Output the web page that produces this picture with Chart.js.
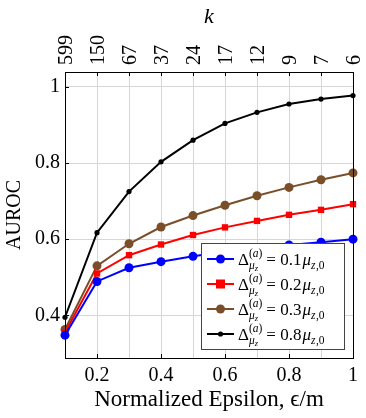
<!DOCTYPE html>
<html>
<head>
<meta charset="utf-8">
<script src="https://cdn.jsdelivr.net/npm/chart.js@4"></script>
<style>
html, body { margin: 0; padding: 0; background: #fff; }
#wrap { position: relative; width: 366px; height: 418px; }
.klabel {
    position: absolute;
    font: 20px 'Liberation Serif', 'DejaVu Serif', serif;
    line-height: 1;
    white-space: nowrap;
    color: #000;
    transform-origin: 0 0;
    transform: rotate(-90deg) translateY(-50%);
}
</style>
</head>
<body>
<div id="wrap"><canvas id="myChart" width="366" height="418"></canvas></div>
<script>
// x positions (normalized epsilon) and the matching k on the top axis
const epsilon = [0.1, 0.2, 0.3, 0.4, 0.5, 0.6, 0.7, 0.8, 0.9, 1.0];
const kLabels = ['599', '150', '67', '37', '24', '17', '12', '9', '7', '6'];
const xTicks = [0.2, 0.4, 0.6, 0.8, 1];
const yTicks = [0.4, 0.6, 0.8, 1];

// AUROC per shift size
const delta01 = [0.348, 0.489, 0.525, 0.541, 0.555, 0.567, 0.577, 0.585, 0.592, 0.600];
const delta02 = [0.355, 0.510, 0.558, 0.586, 0.611, 0.631, 0.648, 0.664, 0.677, 0.692];
const delta03 = [0.363, 0.530, 0.588, 0.632, 0.662, 0.689, 0.714, 0.736, 0.756, 0.774];
const delta08 = [0.395, 0.617, 0.725, 0.803, 0.860, 0.904, 0.933, 0.955, 0.968, 0.977];

const seriesLabels = ['0.1', '0.2', '0.3', '0.8'];
const FONT = "'Liberation Serif', 'DejaVu Serif', serif";

function toPoints(ys) {
    return epsilon.map((x, i) => ({ x: x, y: ys[i] }));
}

const series = [
    { data: delta01, color: '#0000ff', shape: 'circle', r: 4.5 },
    { data: delta02, color: '#ff0000', shape: 'rect', r: 4.5 },
    { data: delta03, color: '#7a4e28', shape: 'circle', r: 4.5 },
    { data: delta08, color: '#000000', shape: 'circle', r: 2.6 }
];

// frame, inward ticks and the math legend
const framePlugin = {
    id: 'frame',
    afterDatasetsDraw(chart) {
        const ctx = chart.ctx;
        const a = chart.chartArea;
        const xs = chart.scales.x;
        const ys = chart.scales.y;
        ctx.save();
        ctx.strokeStyle = '#000';
        ctx.lineWidth = 1;
        ctx.beginPath();
        epsilon.forEach(v => {
            const px = Math.round(xs.getPixelForValue(v)) + 0.5;
            ctx.moveTo(px, a.top); ctx.lineTo(px, a.top + 4);
        });
        xTicks.forEach(v => {
            const px = Math.round(xs.getPixelForValue(v)) + 0.5;
            ctx.moveTo(px, a.bottom); ctx.lineTo(px, a.bottom - 4);
        });
        yTicks.forEach(v => {
            const py = Math.round(ys.getPixelForValue(v)) + 0.5;
            ctx.moveTo(a.left, py); ctx.lineTo(a.left + 4, py);
        });
        ctx.stroke();
        ctx.strokeRect(Math.round(a.left) + 0.5, Math.round(a.top) + 0.5,
            Math.round(a.right - a.left), Math.round(a.bottom - a.top));

        // legend box
        const lx = 201, ly = 243, lw = 143, lh = 106;
        ctx.fillStyle = '#fff';
        ctx.fillRect(lx, ly, lw, lh);
        ctx.strokeStyle = '#444';
        ctx.strokeRect(lx + 0.5, ly + 0.5, lw, lh);

        series.forEach((s, i) => {
            const cy = ly + 16 + i * 25;
            ctx.strokeStyle = s.color;
            ctx.lineWidth = 2;
            ctx.beginPath();
            ctx.moveTo(lx + 6, cy); ctx.lineTo(lx + 33, cy);
            ctx.stroke();
            ctx.fillStyle = s.color;
            if (s.shape === 'rect') {
                ctx.fillRect(lx + 19.5 - s.r, cy - s.r, s.r * 2, s.r * 2);
            } else {
                ctx.beginPath();
                ctx.arc(lx + 19.5, cy, s.r, 0, Math.PI * 2);
                ctx.fill();
            }
            drawLabel(ctx, lx + 37, cy + 6, seriesLabels[i]);
        });
        ctx.restore();
    }
};

function put(ctx, text, x, y, size, italic) {
    ctx.font = (italic ? 'italic ' : '') + size + 'px ' + FONT;
    ctx.fillText(text, x, y);
    return ctx.measureText(text).width;
}

// \Delta_{\mu_z}^{(a)} = v\mu_{z,0}
function drawLabel(ctx, x, y, v) {
    ctx.fillStyle = '#000';
    ctx.textAlign = 'left';
    ctx.textBaseline = 'alphabetic';
    x += put(ctx, '\u0394', x, y, 17, false);
    let w1 = put(ctx, '(', x, y - 8, 11.5, false);
    w1 += put(ctx, 'a', x + w1, y - 8, 11.5, true);
    w1 += put(ctx, ')', x + w1, y - 8, 11.5, false);
    let w2 = put(ctx, '\u03bc', x, y + 4, 11.5, true);
    w2 += put(ctx, 'z', x + w2, y + 6, 8.5, true);
    x += Math.max(w1, w2) + 4;
    x += put(ctx, '= ' + v, x, y, 17, false);
    x += put(ctx, '\u03bc', x + 1, y, 17, true) + 1;
    put(ctx, 'z', x, y + 4, 11.5, true);
    put(ctx, ',0', x + 5, y + 4, 11.5, false);
}

const ctx = document.getElementById('myChart').getContext('2d');
window.myChart = new Chart(ctx, {
    type: 'scatter',
    data: {
        datasets: series.map(s => ({
            data: toPoints(s.data),
            showLine: true,
            borderColor: s.color,
            backgroundColor: s.color,
            borderWidth: 2,
            pointStyle: s.shape === 'rect' ? 'rect' : 'circle',
            pointRadius: s.r,
            pointBorderWidth: 0,
            clip: false
        }))
    },
    options: {
        responsive: false,
        animation: false,
        devicePixelRatio: 1,
        layout: { padding: { right: 13, top: 0, bottom: 0, left: 0 } },
        plugins: { legend: { display: false }, tooltip: { enabled: false } },
        scales: {
            x: {
                type: 'linear',
                position: 'bottom',
                min: 0.1,
                max: 1,
                afterBuildTicks: axis => { axis.ticks = xTicks.map(v => ({ value: v })); },
                afterFit: axis => { axis.height = 60; },
                ticks: {
                    color: '#000',
                    font: { family: FONT, size: 20 },
                    padding: 6,
                    maxRotation: 0,
                    callback: v => String(Math.round(v * 10) / 10)
                },
                grid: { display: false, drawTicks: false },
                border: { display: false },
                title: {
                    display: true,
                    text: 'Normalized Epsilon, \u03f5/m',
                    color: '#000',
                    font: { family: FONT, size: 23 },
                    padding: { top: 0, bottom: 4 }
                }
            },
            x2: {
                type: 'linear',
                position: 'top',
                min: 0.1,
                max: 1,
                afterBuildTicks: axis => { axis.ticks = epsilon.map(v => ({ value: v })); },
                afterFit: axis => { axis.height = 72; },
                ticks: { display: false },
                grid: { color: '#d6d6d6', lineWidth: 1, drawTicks: false },
                border: { display: false },
                title: {
                    display: true,
                    text: 'k',
                    color: '#000',
                    font: { family: FONT, size: 22, style: 'italic' },
                    padding: { top: 4, bottom: 0 }
                }
            },
            y: {
                type: 'linear',
                min: 0.288,
                max: 1.039,
                afterBuildTicks: axis => { axis.ticks = yTicks.map(v => ({ value: v })); },
                afterFit: axis => { axis.width = 65; },
                ticks: {
                    color: '#000',
                    font: { family: FONT, size: 20 },
                    padding: 5,
                    callback: v => String(Math.round(v * 10) / 10)
                },
                grid: { color: '#d6d6d6', lineWidth: 1, drawTicks: false },
                border: { display: false },
                title: {
                    display: true,
                    text: 'AUROC',
                    color: '#000',
                    font: { family: FONT, size: 20 },
                    padding: { top: 3, bottom: 0 }
                }
            }
        }
    },
    plugins: [framePlugin]
});

// k labels on the top axis, placed from the chart's own scale
const wrap = document.getElementById('wrap');
const area = window.myChart.chartArea;
epsilon.forEach((v, i) => {
    const el = document.createElement('div');
    el.className = 'klabel';
    el.textContent = kLabels[i];
    el.style.left = window.myChart.scales.x2.getPixelForValue(v) + 'px';
    el.style.top = (area.top - 7) + 'px';
    wrap.appendChild(el);
});
</script>
</body>
</html>
